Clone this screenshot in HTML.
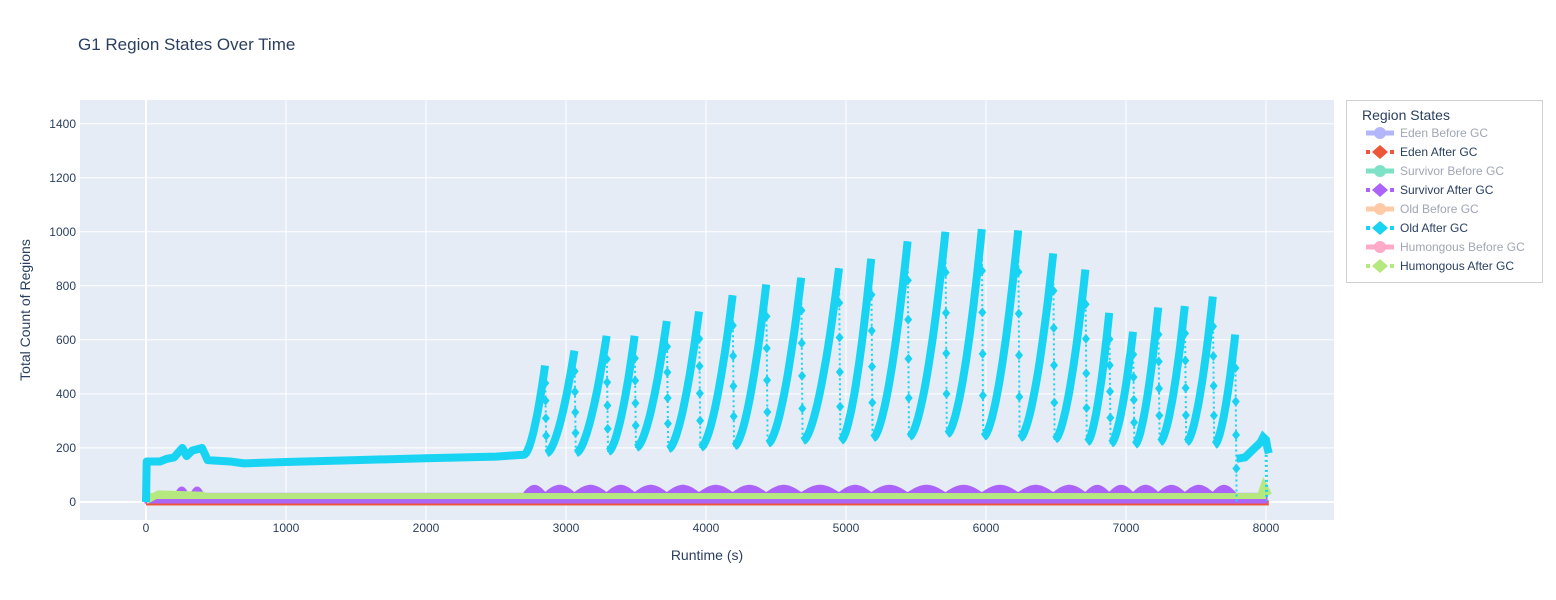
<!DOCTYPE html>
<html><head><meta charset="utf-8"><style>
body{margin:0;background:#fff;}
svg{display:block;font-family:"Liberation Sans",Arial,sans-serif;}
</style></head><body>
<svg id="s" width="1556" height="600" viewBox="0 0 1556 600" xmlns="http://www.w3.org/2000/svg">
<rect x="0" y="0" width="1556" height="600" fill="#fff"/>
<rect x="80" y="100" width="1254" height="420" fill="#e5ecf6"/>
<g stroke="#fff" stroke-width="1">
<line x1="80" x2="1334" y1="447.9" y2="447.9"/><line x1="80" x2="1334" y1="393.9" y2="393.9"/>
<line x1="80" x2="1334" y1="339.8" y2="339.8"/><line x1="80" x2="1334" y1="285.8" y2="285.8"/>
<line x1="80" x2="1334" y1="231.8" y2="231.8"/><line x1="80" x2="1334" y1="177.7" y2="177.7"/>
<line x1="80" x2="1334" y1="123.7" y2="123.7"/>
<line y1="100" y2="520" x1="286" x2="286"/><line y1="100" y2="520" x1="426" x2="426"/>
<line y1="100" y2="520" x1="566" x2="566"/><line y1="100" y2="520" x1="706" x2="706"/>
<line y1="100" y2="520" x1="846" x2="846"/><line y1="100" y2="520" x1="986" x2="986"/>
<line y1="100" y2="520" x1="1126" x2="1126"/><line y1="100" y2="520" x1="1266" x2="1266"/>
</g>
<line x1="80" x2="1334" y1="502" y2="502" stroke="#fff" stroke-width="2"/>
<line y1="100" y2="520" x1="146" x2="146" stroke="#fff" stroke-width="2"/>
<g id="data"></g>
<g font-size="12" fill="#2a3f5f" text-anchor="end">
<text x="76" y="506">0</text><text x="76" y="452">200</text><text x="76" y="398">400</text>
<text x="76" y="344">600</text><text x="76" y="290">800</text><text x="76" y="236">1000</text>
<text x="76" y="182">1200</text><text x="76" y="128">1400</text>
</g>
<g font-size="12" fill="#2a3f5f" text-anchor="middle">
<text x="146" y="532">0</text><text x="286" y="532">1000</text><text x="426" y="532">2000</text>
<text x="566" y="532">3000</text><text x="706" y="532">4000</text><text x="846" y="532">5000</text>
<text x="986" y="532">6000</text><text x="1126" y="532">7000</text><text x="1266" y="532">8000</text>
</g>
<text x="707" y="560" font-size="14" fill="#2a3f5f" text-anchor="middle">Runtime (s)</text>
<text transform="translate(30,310) rotate(-90)" font-size="14" fill="#2a3f5f" text-anchor="middle">Total Count of Regions</text>
<text x="78" y="50" font-size="17" fill="#2a3f5f">G1 Region States Over Time</text>
<rect x="1346.5" y="100.5" width="196" height="182" fill="#fff" stroke="#d0d0d0"/>
<text x="1362" y="120" font-size="14" fill="#2a3f5f">Region States</text>
<g font-size="12">
<line x1="1366" x2="1394" y1="133" y2="133" stroke="#b3b6fb" stroke-width="5"/><circle cx="1380" cy="133" r="6" fill="#b3b6fb"/><text x="1400" y="137" fill="#a0a6b5">Eden Before GC</text>
<line x1="1366" x2="1394" y1="152" y2="152" stroke="#EF553B" stroke-width="4" stroke-dasharray="4,4"/><path d="M1380 145 L1388 152 L1380 159 L1372 152Z" fill="#EF553B"/><text x="1400" y="156" fill="#2a3f5f">Eden After GC</text>
<line x1="1366" x2="1394" y1="171" y2="171" stroke="#7de2c6" stroke-width="5"/><circle cx="1380" cy="171" r="6" fill="#7de2c6"/><text x="1400" y="175" fill="#a0a6b5">Survivor Before GC</text>
<line x1="1366" x2="1394" y1="190" y2="190" stroke="#ab63fa" stroke-width="4" stroke-dasharray="4,4"/><path d="M1380 183 L1388 190 L1380 197 L1372 190Z" fill="#ab63fa"/><text x="1400" y="194" fill="#2a3f5f">Survivor After GC</text>
<line x1="1366" x2="1394" y1="209" y2="209" stroke="#ffcba6" stroke-width="5"/><circle cx="1380" cy="209" r="6" fill="#ffcba6"/><text x="1400" y="213" fill="#a0a6b5">Old Before GC</text>
<line x1="1366" x2="1394" y1="228" y2="228" stroke="#19d3f3" stroke-width="4" stroke-dasharray="4,4"/><path d="M1380 221 L1388 228 L1380 235 L1372 228Z" fill="#19d3f3"/><text x="1400" y="232" fill="#2a3f5f">Old After GC</text>
<line x1="1366" x2="1394" y1="247" y2="247" stroke="#ffaac6" stroke-width="5"/><circle cx="1380" cy="247" r="6" fill="#ffaac6"/><text x="1400" y="251" fill="#a0a6b5">Humongous Before GC</text>
<line x1="1366" x2="1394" y1="266" y2="266" stroke="#b6e880" stroke-width="4" stroke-dasharray="4,4"/><path d="M1380 259 L1388 266 L1380 273 L1372 266Z" fill="#b6e880"/><text x="1400" y="270" fill="#2a3f5f">Humongous After GC</text>
</g>
</svg>
<script>
(function(){
var NS="http://www.w3.org/2000/svg",g=document.getElementById("data");
function X(t){return 146+t*0.14;}function Y(v){return 502-v*0.2702;}
function el(n,a){var e=document.createElementNS(NS,n);for(var k in a)e.setAttribute(k,a[k]);g.appendChild(e);return e;}
// bottom bands
el("rect",{x:X(0),y:Y(2)-1,width:X(8020)-X(0),height:5,fill:"#EF553B"});
var pp="M"+X(0)+" "+Y(0);
var peaksT=[2850,3060,3290,3490,3720,3950,4190,4430,4680,4950,5180,5440,5710,5970,6230,6480,6710,6880,7050,7230,7420,7620,7780];
for(var t=0;t<=8000;t+=10){var ph=0;for(var i=0;i<peaksT.length;i++){if(t<peaksT[i]){var pr=i?peaksT[i-1]:2700;ph=(t-pr)/(peaksT[i]-pr);break;}}
var v=12+(t>200?10:0)+ (t>2700&&t<7780?(35*Math.sin(Math.PI*Math.min(1,Math.max(0,1-ph)))*0.8+8):6);
if(t>200&&t<420)v=12+40*Math.sin(Math.PI*((t-200)%110)/110);
pp+=" L"+X(t).toFixed(1)+" "+Y(v).toFixed(1);}
pp+=" L"+X(8000)+" "+Y(0)+" Z";
el("path",{d:pp,fill:"#ab63fa",stroke:"#ab63fa","stroke-width":3});
el("rect",{x:X(0),y:Y(22)-3,width:X(8000)-X(0),height:6,fill:"#b6e880"});
el("path",{d:"M"+X(0)+" "+Y(5)+" L"+X(90)+" "+Y(30)+" L"+X(420)+" "+Y(25),stroke:"#b6e880","stroke-width":7,fill:"none"});
el("path",{d:"M"+X(7960)+" "+Y(22)+" L"+X(7985)+" "+Y(60)+" L"+X(8020)+" "+Y(25),stroke:"#b6e880","stroke-width":7,fill:"none"});
// old after GC
var peaks=[[2850,505,180],[3060,560,180],[3290,615,185],[3490,615,200],[3720,670,195],[3950,705,200],[4190,765,205],[4430,805,215],[4680,830,225],[4950,865,225],[5180,900,235],[5440,965,240],[5710,1000,250],[5970,1010,240],[6230,1005,235],[6480,920,230],[6710,860,220],[6880,700,215],[7050,630,210],[7230,720,220],[7420,725,220],[7620,760,210],[7780,620,0]];
var d="M"+X(0)+" "+Y(0)+" L"+X(5)+" "+Y(150);
var early=[[100,150],[150,160],[200,165],[260,200],[290,170],[330,190],[400,200],[440,155],[600,150],[700,143],[1000,148],[1500,155],[2000,162],[2500,168],[2700,175]];
early.forEach(function(p){d+=" L"+X(p[0])+" "+Y(p[1]);});
var prevT=2700,prevV=175,drops=[];
peaks.forEach(function(p){for(var k=1;k<=20;k++){var f=k/20;var v=prevV+(p[1]-prevV)*Math.pow(f,1.7);d+=" L"+X(prevT+(p[0]-prevT)*f).toFixed(1)+" "+Y(v).toFixed(1);}
drops.push(p);prevT=p[0]+10;prevV=p[2];d+=" M"+X(prevT).toFixed(1)+" "+Y(prevV).toFixed(1);});
el("path",{d:d,stroke:"#19d3f3","stroke-width":8,fill:"none","stroke-linejoin":"round"});
drops.forEach(function(p){var x1=X(p[0]),x2=X(p[0]+10);
el("line",{x1:x1,y1:Y(p[1]),x2:x2,y2:Y(p[2]),stroke:"#19d3f3","stroke-width":2,"stroke-dasharray":"2,3"});
for(var k=1;k<5;k++){var f=k/5;var x=x1+(x2-x1)*f,y=Y(p[1])+(Y(p[2])-Y(p[1]))*f;
el("path",{d:"M"+x+" "+(y-5)+" L"+(x+4)+" "+y+" L"+x+" "+(y+5)+" L"+(x-4)+" "+y+"Z",fill:"#19d3f3"});}});
var e="M"+X(7790)+" "+Y(160);
[[7850,165],[7900,190],[7960,220],[7980,240],[8000,230],[8010,200],[8020,180]].forEach(function(p){e+=" L"+X(p[0])+" "+Y(p[1]);});
el("path",{d:e,stroke:"#19d3f3","stroke-width":8,fill:"none"});
el("line",{x1:X(8000),y1:Y(230),x2:X(8005),y2:Y(5),stroke:"#19d3f3","stroke-width":3,"stroke-dasharray":"2,3"});
})();
</script>
</body></html>
